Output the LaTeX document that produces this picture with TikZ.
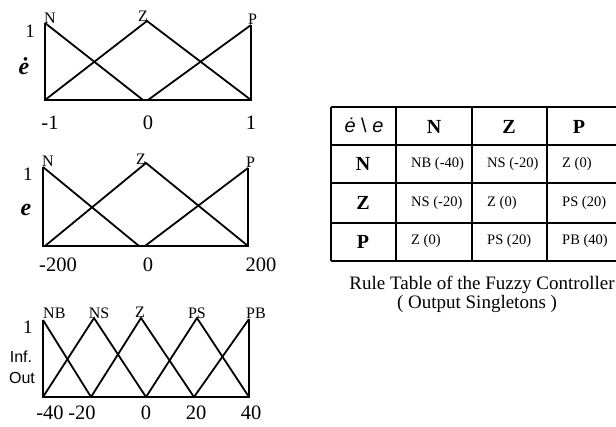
\documentclass[tikz,border=0pt]{standalone}
\usepackage{fontspec}
\setmainfont{Liberation Serif}
\newfontfamily\arialf{Liberation Sans}
\begin{document}
\begin{tikzpicture}[x=1pt,y=-1pt,
  mf/.style={line width=1.8pt, line join=miter, line cap=butt},
  gridline/.style={line width=1.8pt},
  setname/.style={inner sep=0pt, font=\fontsize{16}{16}\selectfont},
  ticklbl/.style={inner sep=0pt, anchor=base, font=\fontsize{20.5}{20.5}\selectfont},
  onelbl/.style={inner sep=0pt, anchor=base, font=\fontsize{19}{19}\selectfont},
  varlbl/.style={inner sep=0pt, anchor=base, font=\fontsize{24}{24}\selectfont\bfseries\itshape},
  sanslbl/.style={inner sep=0pt, anchor=base, font=\arialf\fontsize{16}{16}\selectfont},
  hdr/.style={inner sep=0pt, anchor=base, font=\fontsize{20}{20}\selectfont\bfseries},
  cell/.style={inner sep=0pt, anchor=base west, font=\fontsize{14.5}{14.5}\selectfont},
  captext/.style={inner sep=0pt, anchor=base, font=\fontsize{19}{19}\selectfont}]
\useasboundingbox (0,0) rectangle (616,427);

% ---------- plot 1 : e-dot ----------
\draw[mf] (45,23) -- (45,100) -- (251,100) -- (251,25);
\draw[mf] (45,23) -- (143,100);
\draw[mf] (45,100) -- (147,21) -- (251,100);
\draw[mf] (148,100) -- (251,25);
\node[setname, anchor=base west] (n1) at (44,24) {N};
\node[setname, anchor=base east] (z1) at (148,22) {Z};
\node[setname, anchor=base west] (p1) at (248,25) {P};
\node[onelbl] (one1) at (30,38) {1};
\node[varlbl] (ed) at (24,75) {ė};
\node[ticklbl] (t1a) at (50,130) {-1};
\node[ticklbl] (t1b) at (148,130) {0};
\node[ticklbl] (t1c) at (251,130) {1};

% ---------- plot 2 : e ----------
\draw[mf] (43,167) -- (43,246) -- (248,246) -- (248,168);
\draw[mf] (43,167) -- (139,246);
\draw[mf] (45,246) -- (146,163) -- (248,246);
\draw[mf] (145,246) -- (248,168);
\node[setname, anchor=base west] (n2) at (42,167) {N};
\node[setname, anchor=base east] (z2) at (146,165) {Z};
\node[setname, anchor=base west] (p2) at (246,168) {P};
\node[onelbl] (one2) at (28,181) {1};
\node[varlbl] (ee) at (26,216) {e};
\node[ticklbl] (t2a) at (58,272) {-200};
\node[ticklbl] (t2b) at (148,272) {0};
\node[ticklbl] (t2c) at (261,272) {200};

% ---------- plot 3 : output ----------
\draw[mf] (43,320) -- (43,397) -- (249,397) -- (249,319);
\draw[mf] (43,320) -- (91,397);
\draw[mf] (43,397) -- (94,318) -- (146,397);
\draw[mf] (91,397) -- (141,318) -- (194,397);
\draw[mf] (146,397) -- (197,318) -- (249,397);
\draw[mf] (194,397) -- (249,319);
\node[setname, anchor=base west] (nb) at (43,319) {NB};
\node[setname, anchor=base] (ns) at (99,319) {NS};
\node[setname, anchor=base] (z3) at (140,318) {Z};
\node[setname, anchor=base] (ps) at (197,319) {PS};
\node[setname, anchor=base west] (pb) at (246,319) {PB};
\node[onelbl] (one3) at (28,334) {1};
\node[sanslbl] (inf) at (21,363) {Inf.};
\node[sanslbl] (out) at (22,384) {Out};
\node[ticklbl] (t3a) at (50,420) {-40};
\node[ticklbl] (t3b) at (82,420) {-20};
\node[ticklbl] (t3c) at (146,420) {0};
\node[ticklbl] (t3d) at (196,420) {20};
\node[ticklbl] (t3e) at (251,420) {40};

% ---------- rule table ----------
\foreach \yy in {107,145,183,223,261} \draw[gridline] (331,\yy) -- (617,\yy);
\foreach \xx in {331,396,472,547} \draw[gridline] (\xx,107) -- (\xx,261);
\node[inner sep=0pt, anchor=base, font=\arialf\fontsize{20}{20}\selectfont] (corner) at (364,133) {\textit{ė} \textbackslash{} \textit{e}};
\node[hdr] (cn) at (434,134) {N};
\node[hdr] (cz) at (509,134) {Z};
\node[hdr] (cp) at (579,134) {P};
\node[hdr] (rn) at (363,171) {N};
\node[hdr] (rz) at (363,210) {Z};
\node[hdr] (rp) at (363,249) {P};
\node[cell] (c11) at (411,168) {NB (-40)};
\node[cell] (c12) at (487,168) {NS (-20)};
\node[cell] (c13) at (562,168) {Z (0)};
\node[cell] (c21) at (411,207) {NS (-20)};
\node[cell] (c22) at (487,207) {Z (0)};
\node[cell] (c23) at (562,207) {PS (20)};
\node[cell] (c31) at (411,245) {Z (0)};
\node[cell] (c32) at (487,245) {PS (20)};
\node[cell] (c33) at (562,245) {PB (40)};
\node[captext] (cap1) at (482,290) {Rule Table of the Fuzzy Controller};
\node[captext] (cap2) at (477,309) {( Output Singletons )};
\end{tikzpicture}
\end{document}
